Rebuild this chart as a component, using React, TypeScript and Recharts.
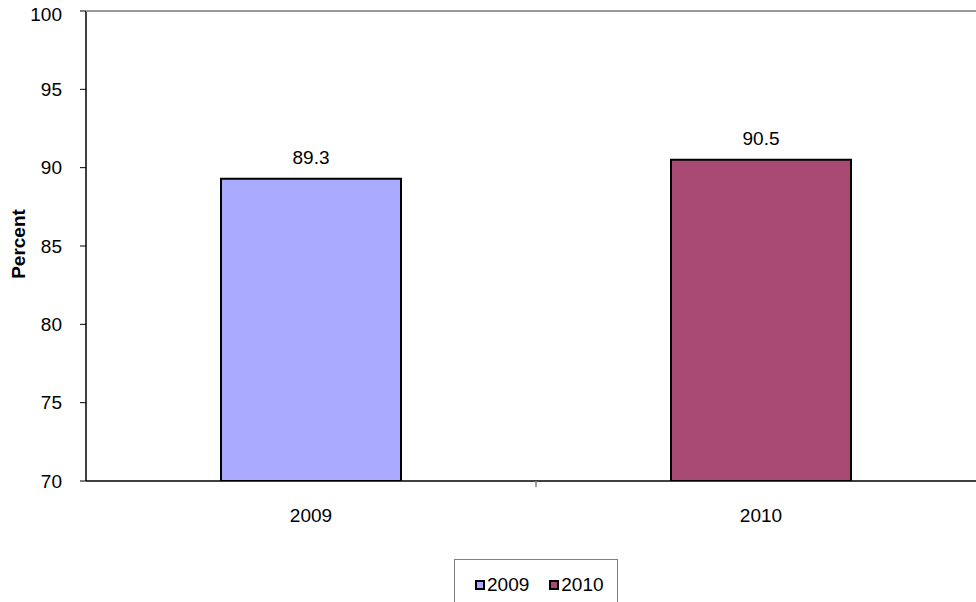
import { Bar, BarChart, Cell, LabelList, XAxis, YAxis } from "recharts";

const years = ["2009", "2010"];
const percents = [89.3, 90.5];
const colors = ["#AAAAFF", "#A94A74"];
const yTicks = [70, 75, 80, 85, 90, 95, 100];
const yMax = 100;

const data = years.map((year, i) => ({ year, value: percents[i] }));

const FONT = "Arial, 'Liberation Sans', sans-serif";
const FS = 19;
const CHART_W = 990;

interface TickProps {
  x?: number;
  y?: number;
  index?: number;
  payload?: { value: string | number; offset?: number };
}

// category label plus the divider tick between the two categories
function YearTick({ x = 0, y = 0, index = 0, payload }: TickProps) {
  const half = payload?.offset ?? 0;
  return (
    <g>
      {index === 0 && (
        <line x1={x + half} x2={x + half} y1={481} y2={487} stroke="#808080" strokeWidth={1.5} />
      )}
      <text x={x} y={y} dy="0.71em" textAnchor="middle" fontSize={FS} fill="#000" fontFamily={FONT}>
        {payload?.value}
      </text>
    </g>
  );
}

// value labels on the left; the top value also carries the grey top border of the plot
function PercentTick({ x = 0, y = 0, payload }: TickProps) {
  const isTop = payload?.value === yMax;
  return (
    <g>
      {isTop && <line x1={x + 24} x2={CHART_W} y1={y} y2={y} stroke="#999999" strokeWidth={2} />}
      <text x={x} y={Math.max(y, 14)} dy="0.355em" textAnchor="end" fontSize={FS} fill="#000" fontFamily={FONT}>
        {payload?.value}
      </text>
    </g>
  );
}

function PercentLabel({ viewBox }: { viewBox?: { x: number; y: number; width: number; height: number } }) {
  if (!viewBox) return null;
  const cx = viewBox.x + 18;
  const cy = viewBox.y + viewBox.height / 2 - 2;
  return (
    <text
      x={cx}
      y={cy}
      transform={`rotate(-90 ${cx} ${cy})`}
      textAnchor="middle"
      dominantBaseline="central"
      fontSize={FS}
      fontWeight="bold"
      fontFamily={FONT}
      fill="#000"
    >
      Percent
    </text>
  );
}

function YearLegend() {
  return (
    <div
      style={{
        position: "absolute",
        left: 454,
        top: 559,
        width: 164,
        height: 43,
        border: "1px solid #808080",
        borderBottom: "none",
        background: "#fff",
        boxSizing: "border-box",
        fontFamily: FONT,
        fontSize: FS,
        lineHeight: "20px",
        display: "flex",
        alignItems: "flex-start",
        paddingLeft: 20,
        paddingTop: 15,
        gap: 20,
      }}
    >
      {years.map((y, i) => (
        <span key={y} style={{ display: "flex", alignItems: "center", height: 20 }}>
          <span
            style={{
              width: 10,
              height: 10,
              boxSizing: "border-box",
              background: colors[i],
              border: "2px solid #000",
              marginRight: 2,
            }}
          />
          {y}
        </span>
      ))}
    </div>
  );
}

export default function App() {
  return (
    <div
      style={{
        position: "absolute",
        left: 0,
        top: 0,
        width: 976,
        height: 602,
        overflow: "hidden",
        background: "#fff",
      }}
    >
      <BarChart
        width={CHART_W}
        height={602}
        data={data}
        margin={{ top: 11, right: 4, left: 0, bottom: 0 }}
        barCategoryGap="30%"
      >
        <XAxis
          dataKey="year"
          height={121}
          axisLine={{ stroke: "#000", strokeWidth: 1.5 }}
          tickLine={false}
          tickSize={6}
          tickMargin={22}
          tick={<YearTick />}
        />
        <YAxis
          domain={[70, yMax]}
          ticks={yTicks}
          width={86}
          allowDataOverflow
          axisLine={{ stroke: "#000", strokeWidth: 1.5 }}
          tickLine={{ stroke: "#000" }}
          tickSize={6}
          tickMargin={18}
          tick={<PercentTick />}
          label={<PercentLabel />}
        />
        <Bar dataKey="value" stroke="#000" strokeWidth={2} isAnimationActive={false}>
          <LabelList dataKey="value" position="top" offset={15} fontSize={FS} fill="#000" fontFamily={FONT} />
          {data.map((d, i) => (
            <Cell key={d.year} fill={colors[i]} />
          ))}
        </Bar>
      </BarChart>
      <YearLegend />
    </div>
  );
}
